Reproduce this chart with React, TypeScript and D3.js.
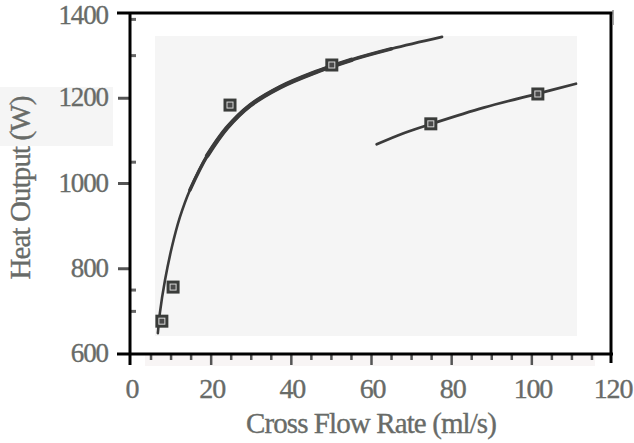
import React from "react";
import * as d3 from "d3";

const xTicks = [0, 20, 40, 60, 80, 100, 120];
const xMinorTicks = [5, 10, 15, 25, 30, 35, 45, 50, 55, 65, 70, 75, 85, 90, 95, 105, 110, 115];
const yTicks = [600, 800, 1000, 1200, 1400];
const yMajorOut = [800, 1000, 1200];
const yMinorTicks = [700, 750, 1050, 1300, 1385];

const pointsX = [7.7, 10.5, 24.7, 50.1, 74.8, 101.5];
const pointsY = [677, 757, 1184, 1278, 1140, 1210];

const curve1X = [6.7, 7.2, 8.5, 10.2, 12.2, 14.7, 19, 23.9, 29.7, 37.2, 45.4, 55, 65, 77.6];
const curve1Y = [649, 696, 774, 851, 921, 985, 1065, 1130, 1183, 1226, 1259, 1290, 1316, 1344];

const curve2X = [61.3, 68, 75, 88, 101.5, 111];
const curve2Y = [1092, 1118, 1140, 1178, 1211, 1234];

const W = 634;
const H = 443;

export default function App() {
  const x = d3.scaleLinear().domain([0, 120]).range([131, 612]);
  const y = d3.scaleLinear().domain([600, 1400]).range([354, 13]);
  const line = d3
    .line<[number, number]>()
    .x((d) => x(d[0]))
    .y((d) => y(d[1]))
    .curve(d3.curveCatmullRom);

  const c1: [number, number][] = curve1X.map((v, i) => [v, curve1Y[i]]);
  const c1mid = c1.filter((d) => d[0] >= 14 && d[0] <= 66);
  const c1thick = c1.filter((d) => d[0] >= 19 && d[0] <= 56);
  const c2: [number, number][] = curve2X.map((v, i) => [v, curve2Y[i]]);

  const font = "'Liberation Serif', 'Times New Roman', serif";
  const textFill = "#686b68";
  const lineCol = "#3b3b3b";
  const txt = {
    fontFamily: font,
    fill: textFill,
    stroke: textFill,
    strokeWidth: 0.35,
  };

  return (
    <svg
      width={W}
      height={H}
      style={{ position: "absolute", left: 0, top: 0, background: "#fff" }}
    >
      {/* background panels */}
      <rect x={155} y={36} width={422} height={300} fill="#f5f5f5" />
      <rect x={0} y={87} width={113} height={59} fill="#f5f5f5" />
      <rect x={145} y={355} width={450} height={11} fill="#f8f5f5" />

      {/* x ticks (below axis) */}
      {xMinorTicks.map((t) => (
        <line key={"xm" + t} x1={x(t)} x2={x(t)} y1={354} y2={360} stroke="#555" strokeWidth={2.5} />
      ))}
      {xTicks
        .filter((t) => t > 0 && t < 120)
        .map((t) => (
          <line key={"xM" + t} x1={x(t)} x2={x(t)} y1={354} y2={365} stroke="#555" strokeWidth={2.5} />
        ))}

      {/* y ticks */}
      {yMajorOut.map((t) => (
        <line key={"yM" + t} x1={118} x2={131} y1={y(t)} y2={y(t)} stroke="#555" strokeWidth={3} />
      ))}
      {yMinorTicks.map((t) => (
        <line key={"ym" + t} x1={130} x2={136} y1={y(t)} y2={y(t)} stroke="#666" strokeWidth={3} />
      ))}

      {/* frame */}
      <line x1={117} x2={613} y1={13} y2={13} stroke="#000" strokeWidth={3} />
      <line x1={117} x2={613} y1={354} y2={354} stroke="#000" strokeWidth={3} />
      <line x1={130} x2={130} y1={12} y2={365} stroke="#000" strokeWidth={3} />
      <line x1={611} x2={611} y1={12} y2={363} stroke="#000" strokeWidth={3} />
      <line x1={613} x2={613} y1={10} y2={25} stroke="#888" strokeWidth={1.5} />

      {/* curves */}
      <path d={line(c1) || ""} fill="none" stroke={lineCol} strokeWidth={2.6} strokeLinecap="round" />
      <path d={line(c1mid) || ""} fill="none" stroke={lineCol} strokeWidth={3.5} strokeLinecap="round" />
      <path d={line(c1thick) || ""} fill="none" stroke={lineCol} strokeWidth={4.5} strokeLinecap="round" />
      <path d={line(c2) || ""} fill="none" stroke={lineCol} strokeWidth={2.8} strokeLinecap="round" />

      {/* points */}
      {pointsX.map((px, i) => {
        const cx = x(px);
        const cy = y(pointsY[i]);
        return (
          <g key={"p" + i}>
            <rect x={cx - 6.5} y={cy - 6.5} width={13} height={13} fill="#3a3c3a" />
            <rect x={cx - 3} y={cy - 3} width={6} height={6} fill="#4a4a4a" stroke="#d8d8d8" strokeWidth={1} />
          </g>
        );
      })}

      {/* y tick labels */}
      {yTicks.map((t) => (
        <text
          key={"yl" + t}
          x={108}
          y={Math.max(y(t) + 2, 18)}
          textAnchor="end"
          dominantBaseline="middle"
          fontSize={27}
          letterSpacing={-1.1}
          {...txt}
        >
          {t}
        </text>
      ))}

      {/* x tick labels */}
      {xTicks.map((t) => (
        <text
          key={"xl" + t}
          x={x(t) + 1}
          y={392}
          textAnchor="middle"
          dominantBaseline="middle"
          fontSize={28}
          letterSpacing={-1.2}
          {...txt}
        >
          {t}
        </text>
      ))}

      {/* axis titles */}
      <text
        x={371}
        y={426}
        textAnchor="middle"
        dominantBaseline="middle"
        fontSize={29}
        letterSpacing={-0.9}
        {...txt}
      >
        Cross Flow Rate (ml/s)
      </text>
      <text
        transform="translate(23,188) rotate(-90)"
        textAnchor="middle"
        dominantBaseline="middle"
        fontSize={29}
        letterSpacing={-0.9}
        {...txt}
      >
        Heat Output (W)
      </text>
    </svg>
  );
}
